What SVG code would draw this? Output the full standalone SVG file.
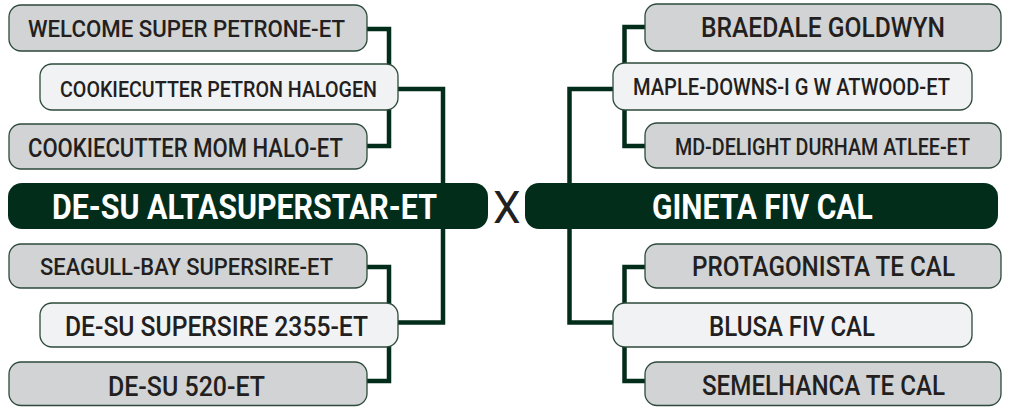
<svg xmlns="http://www.w3.org/2000/svg" width="1009" height="407" viewBox="0 0 1009 407">
<style>
.bg{fill:#ffffff}
.gray{fill:#d1d3d4;stroke:#2d4a3b;stroke-width:1.3}
.light{fill:#f1f2f3;stroke:#2d4a3b;stroke-width:1.3}
.main{fill:#022d1a}
.t{font-family:Roboto,"Liberation Sans",Arial,sans-serif;font-weight:500;fill:#231f20}
.tm{font-family:Roboto,"Liberation Sans",Arial,sans-serif;font-weight:bold;fill:#ffffff;font-size:36px}
.x{font-family:Roboto,"Liberation Sans",Arial,sans-serif;font-weight:400;fill:#231f20;font-size:44px}
.conn path{fill:none;stroke:#022d1a;stroke-width:4.5;stroke-linejoin:miter}
</style>
<rect class="bg" x="0" y="0" width="1009" height="407"/>
<g id="connectors" class="conn">
<path d="M366 29 H389 V146 H366"/>
<path d="M397 89 H443 V184"/>
<path d="M366 267 H389 V381 H366"/>
<path d="M397 322.5 H443 V228"/>
<path d="M646 27 H624.5 V146 H646"/>
<path d="M614 89 H569.5 V184"/>
<path d="M646 267 H624.5 V381 H646"/>
<path d="M614 322.5 H569.5 V228"/>
</g>
<g id="welcome"><rect class="gray" x="9" y="5" width="358" height="46" rx="12"/><text class="t" x="28" y="37" font-size="24" textLength="317" lengthAdjust="spacingAndGlyphs">WELCOME SUPER PETRONE-ET</text></g>
<g id="petron"><rect class="light" x="40" y="64" width="358" height="46" rx="12"/><text class="t" x="60" y="97" font-size="22" textLength="317" lengthAdjust="spacingAndGlyphs">COOKIECUTTER PETRON HALOGEN</text></g>
<g id="momhalo"><rect class="gray" x="9" y="124" width="358" height="45" rx="12"/><text class="t" x="28" y="157" font-size="26" textLength="315" lengthAdjust="spacingAndGlyphs">COOKIECUTTER MOM HALO-ET</text></g>
<g id="altasuperstar"><rect class="main" x="8" y="183" width="480" height="46" rx="14"/><text class="tm" transform="translate(52 219) scale(0.78 1)" x="0" y="0" textLength="493.6" lengthAdjust="spacingAndGlyphs">DE-SU ALTASUPERSTAR-ET</text></g>
<g id="seagull"><rect class="gray" x="9" y="244" width="358" height="44" rx="12"/><text class="t" x="40" y="275" font-size="24" textLength="293" lengthAdjust="spacingAndGlyphs">SEAGULL-BAY SUPERSIRE-ET</text></g>
<g id="supersire"><rect class="light" x="40" y="303" width="358" height="44" rx="12"/><text class="t" x="65" y="336" font-size="27" textLength="303" lengthAdjust="spacingAndGlyphs">DE-SU SUPERSIRE 2355-ET</text></g>
<g id="desu520"><rect class="gray" x="9" y="362" width="358" height="43.5" rx="12"/><text class="t" x="108" y="396" font-size="27" textLength="157" lengthAdjust="spacingAndGlyphs">DE-SU 520-ET</text></g>
<g id="cross"><text class="x" x="493" y="223">X</text></g>
<g id="braedale"><rect class="gray" x="645" y="4" width="356" height="47" rx="12"/><text class="t" x="701" y="37" font-size="27" textLength="244" lengthAdjust="spacingAndGlyphs">BRAEDALE GOLDWYN</text></g>
<g id="mapledowns"><rect class="light" x="613" y="63" width="359" height="47" rx="12"/><text class="t" x="633" y="95" font-size="23" textLength="317" lengthAdjust="spacingAndGlyphs">MAPLE-DOWNS-I G W ATWOOD-ET</text></g>
<g id="mddelight"><rect class="gray" x="645" y="123" width="356" height="45" rx="12"/><text class="t" transform="translate(675 155) scale(0.85 1)" x="0" y="0" font-size="23" textLength="347" lengthAdjust="spacingAndGlyphs">MD-DELIGHT DURHAM ATLEE-ET</text></g>
<g id="gineta"><rect class="main" x="525" y="183" width="473" height="46" rx="14"/><text class="tm" transform="translate(652 219) scale(0.8 1)" x="0" y="0" textLength="276" lengthAdjust="spacingAndGlyphs">GINETA FIV CAL</text></g>
<g id="protagonista"><rect class="gray" x="645" y="244" width="356" height="44" rx="12"/><text class="t" x="692" y="276" font-size="27" textLength="263" lengthAdjust="spacingAndGlyphs">PROTAGONISTA TE CAL</text></g>
<g id="blusa"><rect class="light" x="613" y="303" width="359" height="44" rx="12"/><text class="t" x="709" y="336" font-size="27" textLength="166" lengthAdjust="spacingAndGlyphs">BLUSA FIV CAL</text></g>
<g id="semelhanca"><rect class="gray" x="645" y="362" width="356" height="43.5" rx="12"/><text class="t" x="702" y="395" font-size="27" textLength="243" lengthAdjust="spacingAndGlyphs">SEMELHANCA TE CAL</text></g>
</svg>
